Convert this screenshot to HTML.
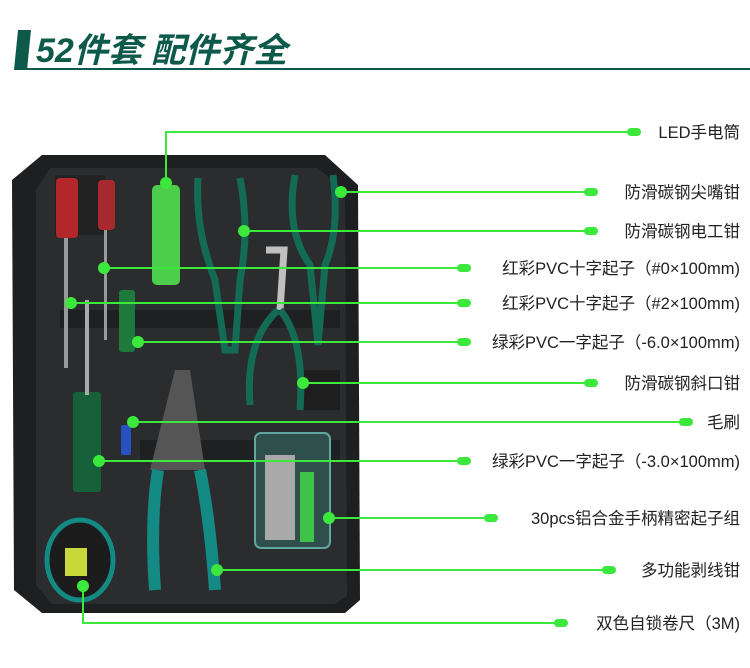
<!DOCTYPE html>
<html><head><meta charset="utf-8"><style>
html,body{margin:0;padding:0;background:#fff;width:750px;height:668px;overflow:hidden}
svg{display:block}
.t{font-family:"Liberation Sans","Noto Sans CJK SC",sans-serif;font-size:16.5px;fill:#222}
</style></head><body>
<svg width="750" height="668" viewBox="0 0 750 668">
<polygon points="18,30 31,30 27,70 14,70" fill="#0d5a4a"/>
<text x="36" y="62" font-family="'Liberation Sans','Noto Sans CJK SC',sans-serif" font-size="34" font-weight="bold" font-style="italic" fill="#0d5a4a">52件套 配件齐全</text>
<rect x="27" y="68" width="723" height="2" fill="#0d5a4a"/>
<!-- case -->
<path d="M42,155 L325,155 L358,185 L360,600 L345,613 L42,613 L14,590 L12,180 Z" fill="#1e1f20"/>
<path d="M50,168 L318,168 L345,192 L347,596 L335,604 L52,604 L36,585 L36,190 Z" fill="#2b2c2d"/>
<rect x="55" y="175" width="50" height="60" fill="#222"/>
<rect x="60" y="310" width="280" height="18" fill="#1f2021"/>
<rect x="140" y="440" width="200" height="20" fill="#1f2021"/>
<rect x="300" y="370" width="40" height="40" fill="#1e1e1e"/>
<!-- tools -->
<rect x="56" y="178" width="22" height="60" rx="4" fill="#b3262a"/>
<rect x="98" y="180" width="17" height="50" rx="4" fill="#a82a2e"/>
<rect x="64" y="238" width="4" height="130" fill="#999"/>
<rect x="104" y="230" width="3" height="110" fill="#999"/>
<rect x="152" y="185" width="28" height="100" rx="5" fill="#4ccd4c"/>
<rect x="119" y="290" width="16" height="62" rx="3" fill="#1d7a3c"/>
<rect x="73" y="392" width="28" height="100" rx="3" fill="#16613a"/>
<rect x="85" y="300" width="4" height="95" fill="#aaa"/>
<rect x="121" y="425" width="10" height="30" rx="2" fill="#2850c0"/>
<path d="M198,178 Q195,230 215,280 L225,350 L235,350 L240,280 Q250,230 240,178" fill="none" stroke="#136b55" stroke-width="7"/>
<path d="M295,175 Q285,230 310,265 L318,345 L325,265 Q340,230 333,175" fill="none" stroke="#136b55" stroke-width="7"/>
<path d="M266,250 L284,250 L280,310" fill="none" stroke="#c0c0c0" stroke-width="7"/>
<path d="M280,310 Q305,340 300,410 M278,310 Q245,340 250,405" fill="none" stroke="#136b55" stroke-width="7"/>
<path d="M175,370 L190,370 L205,470 L150,470 Z" fill="#555"/>
<path d="M158,470 Q150,520 155,590 M200,470 Q210,520 215,590" fill="none" stroke="#148a84" stroke-width="12"/>
<rect x="255" y="433" width="75" height="115" rx="6" fill="#2f4f4c" stroke="#5fa8a0" stroke-width="2"/>
<rect x="265" y="455" width="30" height="85" fill="#a9a9a9"/>
<rect x="300" y="472" width="14" height="70" fill="#3ec24a"/>
<ellipse cx="80" cy="560" rx="33" ry="40" fill="#1c1c1c" stroke="#148a84" stroke-width="5"/>
<rect x="65" y="548" width="22" height="28" fill="#c8d83a"/>
<!-- leader lines -->
<g stroke="#3de83d" stroke-width="2" fill="none">
<polyline points="166,183 166,132 633,132"/>
<line x1="341" y1="192" x2="590" y2="192"/>
<line x1="244" y1="231" x2="590" y2="231"/>
<line x1="104" y1="268" x2="463" y2="268"/>
<line x1="71" y1="303" x2="463" y2="303"/>
<line x1="138" y1="342" x2="463" y2="342"/>
<line x1="303" y1="383" x2="590" y2="383"/>
<line x1="133" y1="422" x2="685" y2="422"/>
<line x1="99" y1="461" x2="463" y2="461"/>
<line x1="329" y1="518" x2="490" y2="518"/>
<line x1="217" y1="570" x2="608" y2="570"/>
<polyline points="83,586 83,623 560,623"/>
</g>
<g fill="#3de83d">
<circle cx="166" cy="183" r="6"/><circle cx="341" cy="192" r="6"/><circle cx="244" cy="231" r="6"/>
<circle cx="104" cy="268" r="6"/><circle cx="71" cy="303" r="6"/><circle cx="138" cy="342" r="6"/>
<circle cx="303" cy="383" r="6"/><circle cx="133" cy="422" r="6"/><circle cx="99" cy="461" r="6"/>
<circle cx="329" cy="518" r="6"/><circle cx="217" cy="570" r="6"/><circle cx="83" cy="586" r="6"/>
<rect x="627" y="128" width="14" height="8" rx="4"/>
<rect x="584" y="188" width="14" height="8" rx="4"/>
<rect x="584" y="227" width="14" height="8" rx="4"/>
<rect x="457" y="264" width="14" height="8" rx="4"/>
<rect x="457" y="299" width="14" height="8" rx="4"/>
<rect x="457" y="338" width="14" height="8" rx="4"/>
<rect x="584" y="379" width="14" height="8" rx="4"/>
<rect x="679" y="418" width="14" height="8" rx="4"/>
<rect x="457" y="457" width="14" height="8" rx="4"/>
<rect x="484" y="514" width="14" height="8" rx="4"/>
<rect x="602" y="566" width="14" height="8" rx="4"/>
<rect x="554" y="619" width="14" height="8" rx="4"/>
</g>
<g class="t" text-anchor="end">
<text x="740" y="138">LED手电筒</text>
<text x="740" y="198">防滑碳钢尖嘴钳</text>
<text x="740" y="237">防滑碳钢电工钳</text>
<text x="740" y="274">红彩PVC十字起子（#0×100mm)</text>
<text x="740" y="309">红彩PVC十字起子（#2×100mm)</text>
<text x="740" y="348">绿彩PVC一字起子（-6.0×100mm)</text>
<text x="740" y="389">防滑碳钢斜口钳</text>
<text x="740" y="428">毛刷</text>
<text x="740" y="467">绿彩PVC一字起子（-3.0×100mm)</text>
<text x="740" y="524">30pcs铝合金手柄精密起子组</text>
<text x="740" y="576">多功能剥线钳</text>
<text x="740" y="629">双色自锁卷尺（3M)</text>
</g>
</svg>
</body></html>
